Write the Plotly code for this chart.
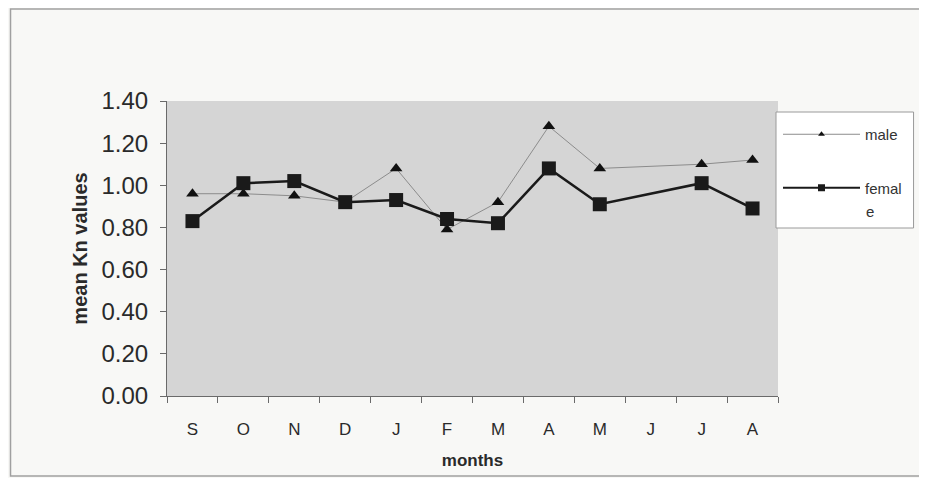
import plotly.graph_objects as go

months = ["S", "O", "N", "D", "J", "F", "M", "A", "M", "J", "J", "A"]
male = [0.96, 0.96, 0.95, 0.92, 1.08, 0.79, 0.92, 1.28, 1.08, None, 1.10, 1.12]
female = [0.83, 1.01, 1.02, 0.92, 0.93, 0.84, 0.82, 1.08, 0.91, None, 1.01, 0.89]
y_ticks = [0.0, 0.2, 0.4, 0.6, 0.8, 1.0, 1.2, 1.4]

xpos = list(range(len(months)))

# screen geometry of the plot area (for paper-coordinate helpers)
PX0, PX1, PY0, PY1 = 167, 780, 101, 396
def px(x):
    return (x - PX0) / (PX1 - PX0)
def py(y):
    return (PY1 - y) / (PY1 - PY0)

MALE_LINE = dict(color="#8c8c8c", width=1)
FEMALE_LINE = dict(color="#1a1a1a", width=2.5)

fig = go.Figure()
fig.add_trace(go.Scatter(
    x=xpos, y=male, name="male", mode="lines+markers", connectgaps=True,
    line=MALE_LINE, marker=dict(symbol="triangle-up", size=11, color="#111111"),
    showlegend=False,
))
fig.add_trace(go.Scatter(
    x=xpos, y=female, name="femal", mode="lines+markers", connectgaps=True,
    line=FEMALE_LINE, marker=dict(symbol="square", size=14, color="#1a1a1a"),
    showlegend=False,
))
# legend entries (small legend symbols, as in the reference)
fig.add_trace(go.Scatter(
    x=[None], y=[None], name="male", mode="lines+markers",
    line=MALE_LINE, marker=dict(symbol="triangle-up", size=6, color="#111111"),
    legendgroup="m",
))
fig.add_trace(go.Scatter(
    x=[None], y=[None], name="femal", mode="lines+markers",
    line=dict(color="#1a1a1a", width=2), marker=dict(symbol="square", size=7, color="#1a1a1a"),
    legendgroup="f",
))

font = "Liberation Sans, Arial, sans-serif"

fig.update_layout(
    width=911, height=470,
    margin=dict(l=159, r=139, t=93, b=82),
    paper_bgcolor="#f8f8f6",
    plot_bgcolor="#d5d5d5",
    font=dict(family=font, color="#2a2a2a"),
    showlegend=True,
    legend=dict(
        x=px(780), xanchor="left",
        y=py(118), yanchor="top",
        bgcolor="rgba(0,0,0,0)", borderwidth=0,
        font=dict(size=15, family=font, color="#333333"),
        itemwidth=77, tracegroupgap=31,
        traceorder="grouped",
    ),
    xaxis=dict(
        range=[-0.5, 11.5],
        tickmode="array", tickvals=xpos, ticktext=months,
        ticks="", showgrid=False, zeroline=False,
        showline=True, linecolor="#6a6a6a", linewidth=1,
        tickfont=dict(size=17, family=font, color="#2a2a2a"),
        ticklabelstandoff=18,
        minor=dict(tickmode="array", tickvals=[i - 0.5 for i in range(13)],
                   ticks="outside", ticklen=6, tickcolor="#6a6a6a", showgrid=False),
        title=dict(text="<b>months</b>", font=dict(size=17, family=font, color="#2a2a2a"), standoff=15),
    ),
    yaxis=dict(
        range=[0, 1.4],
        tickmode="array", tickvals=y_ticks, ticktext=[f"{v:.2f}" for v in y_ticks],
        ticks="outside", ticklen=6, tickcolor="#6a6a6a",
        ticklabelstandoff=7,
        showgrid=False, zeroline=False,
        showline=True, linecolor="#6a6a6a", linewidth=1,
        tickfont=dict(size=24, family=font, color="#2a2a2a"),
        title=dict(text="<b>mean Kn values</b>", font=dict(size=20, family=font, color="#2a2a2a"), standoff=8),
    ),
    shapes=[
        dict(type="rect", xref="paper", yref="paper",
             x0=px(10), x1=px(930), y0=py(476), y1=py(9),
             line=dict(color="#a0a0a0", width=1.5), fillcolor="rgba(0,0,0,0)", layer="below"),
        dict(type="rect", xref="paper", yref="paper",
             x0=px(778), x1=px(916), y0=py(228), y1=py(112),
             line=dict(color="#9a9a9a", width=1), fillcolor="#ffffff", layer="above"),
    ],
    annotations=[
        dict(text="e", xref="paper", yref="paper", x=px(866), y=py(211),
             xanchor="left", yanchor="middle", showarrow=False,
             font=dict(size=15, family=font, color="#333333")),
    ],
)

fig.write_html("out.html")
